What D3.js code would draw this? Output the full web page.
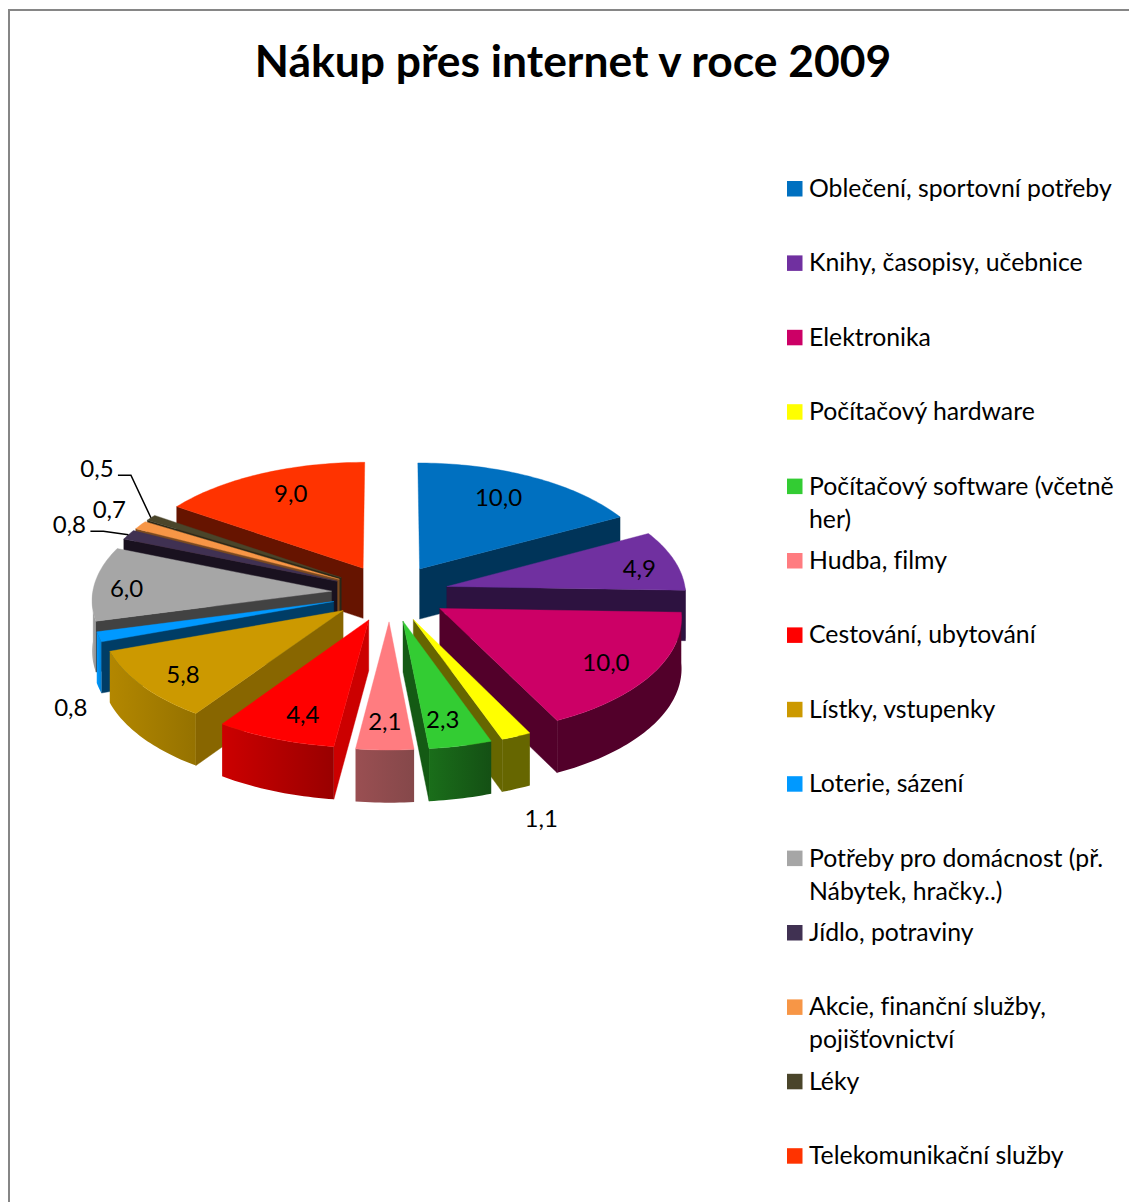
<!DOCTYPE html>
<html lang="cs">
<head>
<meta charset="utf-8">
<title>Nákup přes internet v roce 2009</title>
<script src="https://cdn.jsdelivr.net/npm/d3@7"></script>
<style>
  html, body { margin: 0; padding: 0; background: #fff; }
  svg { display: block; }
  text { font-family: Lato, "Noto Sans", sans-serif; fill: #000; font-variant-ligatures: none; }
</style>
</head>
<body>
<svg id="chart" width="1129" height="1202"></svg>
<script>
// Survey categories and their shares (percent of respondents)
const titleText = "Nákup přes internet v roce 2009";
const categories = [
  ["Oblečení, sportovní potřeby"],
  ["Knihy, časopisy, učebnice"],
  ["Elektronika"],
  ["Počítačový hardware"],
  ["Počítačový software (včetně", "her)"],
  ["Hudba, filmy"],
  ["Cestování, ubytování"],
  ["Lístky, vstupenky"],
  ["Loterie, sázení"],
  ["Potřeby pro domácnost (př.", "Nábytek, hračky..)"],
  ["Jídlo, potraviny"],
  ["Akcie, finanční služby,", "pojišťovnictví"],
  ["Léky"],
  ["Telekomunikační služby"]
];
const values = [10.0, 4.9, 10.0, 1.1, 2.3, 2.1, 4.4, 5.8, 0.8, 6.0, 0.8, 0.7, 0.5, 9.0];

// Slice fills: top face, radial wall, outer rim (left and right end of its shading)
const topColors  = ["#0070C0","#7030A0","#CC0066","#FFFF00","#33CC33","#FF7C80","#FF0000","#CC9900","#0099FF","#A6A6A6","#403152","#F79646","#4A452A","#FF3300"];
const wallColors = ["#003459","#2D1240","#52002A","#666600","#145A14","#964C4E","#CC0000","#886600","#003D66","#424242","#19111F","#7A4A20","#2A2818","#661400"];
const rimLeft    = ["#003459","#2D1240","#52002A","#666600","#1A6E1A","#9A4F52","#CC0000","#B38700","#0099FF","#B4B4B4","#19111F","#7A4A20","#2A2818","#661400"];
const rimRight   = ["#003459","#2D1240","#52002A","#666600","#145014","#85484A","#990000","#957200","#0082D8","#8C8C8C","#19111F","#7A4A20","#2A2818","#661400"];

// Label placement relative to the middle of each slice's outer edge, in pixels
const labelNudgeX = [-34, -35, -46, 25, -18, 0, 28, 41, -28, 32, -59, -31, -54, 30];
const labelNudgeY = [21, 8, -11, 83, -26, -28, -24, -11, 71, 5, -10, -15, -49, 20];
const leaderSlices = [10, 12];

const fmt = v => v.toFixed(1).replace(".", ",");

const svg = d3.select("#chart");
const defs = svg.append("defs");

// Chart frame, running off the right and bottom page edges
svg.append("rect")
  .attr("x", 9).attr("y", 10).attr("width", 1200).attr("height", 1300)
  .attr("fill", "#fff").attr("stroke", "#868686").attr("stroke-width", 2);

svg.append("text")
  .attr("x", 573).attr("y", 77)
  .attr("text-anchor", "middle")
  .attr("font-size", 44.4).attr("font-weight", 700)
  .text(titleText);

// Tilted-disc projection: world units are pie radii, y grows toward the viewer
const explode = 0.245, perspective = 0.065, depth = 50.5;
const sx = d3.scaleLinear().domain([-1, 1]).range([390 - 239, 390 + 239]);
const sy = d3.scaleLinear().domain([-1, 1]).range([593 - 115.9, 593 + 115.9]);
const dir = a => [Math.sin(a), -Math.cos(a)];
const project = ([x, y], drop = 0) => {
  const w = 1 / (1 - perspective * y);
  return [sx(x * w), sy(y * w) + drop * Math.sqrt(w)];
};

const TAU = 2 * Math.PI;
const arcs = d3.pie().sort(null).value(d => d).startAngle(0).endAngle(TAU)(values);

const slices = arcs.map((d, i) => {
  const mid = (d.startAngle + d.endAngle) / 2;
  const [mx, my] = dir(mid);
  const apex = [mx * explode, my * explode];
  const rimPoint = a => {
    const [dx, dy] = dir(a);
    return [apex[0] + dx, apex[1] + dy];
  };
  return { i, value: d.value, start: d.startAngle, end: d.endAngle, mid, apex, rimPoint };
});

const sampleArc = (from, to, fn) => {
  const n = Math.max(2, Math.ceil((to - from) / 0.02));
  return d3.range(n + 1).map(k => fn(from + (to - from) * k / n));
};
const line = d3.line().curve(d3.curveLinear);
const closed = pts => line(pts) + "Z";

// Paint from the back of the pie toward the viewer
const ordered = slices.slice().sort((a, b) => a.apex[1] - b.apex[1]);

const pie = svg.append("g").attr("class", "pie");

ordered.forEach(s => {
  const g = pie.append("g").attr("class", "slice");
  const i = s.i;

  // Radial walls that face the viewer
  const wall = angle => {
    const a = s.apex, r = s.rimPoint(angle);
    g.append("path")
      .attr("d", closed([project(a), project(r), project(r, depth), project(a, depth)]))
      .attr("fill", wallColors[i]).attr("stroke", wallColors[i]).attr("stroke-width", 0.4);
  };
  if (Math.sin(s.start) < 0) wall(s.start);
  if (Math.sin(s.end) > 0) wall(s.end);

  // Outer rim, only where it curves toward the viewer
  const from = Math.max(s.start, Math.PI / 2), to = Math.min(s.end, 3 * Math.PI / 2);
  if (to > from) {
    const id = "rim" + i;
    const grad = defs.append("linearGradient").attr("id", id).attr("x1", 0).attr("x2", 1);
    grad.append("stop").attr("offset", 0).attr("stop-color", rimLeft[i]);
    grad.append("stop").attr("offset", 1).attr("stop-color", rimRight[i]);
    const topEdge = sampleArc(from, to, a => project(s.rimPoint(a)));
    const lowEdge = sampleArc(from, to, a => project(s.rimPoint(a), depth)).reverse();
    g.append("path")
      .attr("d", closed(topEdge.concat(lowEdge)))
      .attr("fill", `url(#${id})`);
  }

  // Top face
  const outer = sampleArc(s.start, s.end, a => project(s.rimPoint(a)));
  g.append("path")
    .attr("d", closed([project(s.apex)].concat(outer)))
    .attr("fill", topColors[i]).attr("stroke", topColors[i]).attr("stroke-width", 0.4);
});

// Value labels
const labelPos = s => {
  const [x, y] = project(s.rimPoint(s.mid));
  return [x + labelNudgeX[s.i], y + labelNudgeY[s.i]];
};

svg.append("g").attr("class", "leaders")
  .selectAll("path").data(slices.filter(s => leaderSlices.includes(s.i))).join("path")
  .attr("fill", "none").attr("stroke", "#000").attr("stroke-width", 1.5)
  .attr("d", s => {
    const [x, y] = labelPos(s);
    return line([[x + 21, y + 6.5], [x + 34, y + 6.5], project(s.rimPoint(s.mid))]);
  });

svg.append("g").attr("class", "labels")
  .selectAll("text").data(slices).join("text")
  .attr("text-anchor", "middle")
  .attr("font-size", 24)
  .attr("x", s => labelPos(s)[0])
  .attr("y", s => labelPos(s)[1] + 8)
  .text(s => fmt(s.value));

// Legend
const legendY = d3.scaleLinear().domain([0, categories.length - 1]).range([188.5, 1155.7]);
const legend = svg.append("g").attr("class", "legend")
  .selectAll("g").data(categories).join("g")
  .attr("transform", (d, i) => `translate(787,${legendY(i)})`);

legend.append("rect")
  .attr("x", 0).attr("y", -7.5).attr("width", 15.5).attr("height", 15.5)
  .attr("fill", (d, i) => topColors[i]);

legend.append("text")
  .attr("font-size", 24.8)
  .selectAll("tspan").data(d => d).join("tspan")
  .attr("x", 22)
  .attr("y", (d, k) => 8.5 + k * 33)
  .text(d => d);
</script>
</body>
</html>
